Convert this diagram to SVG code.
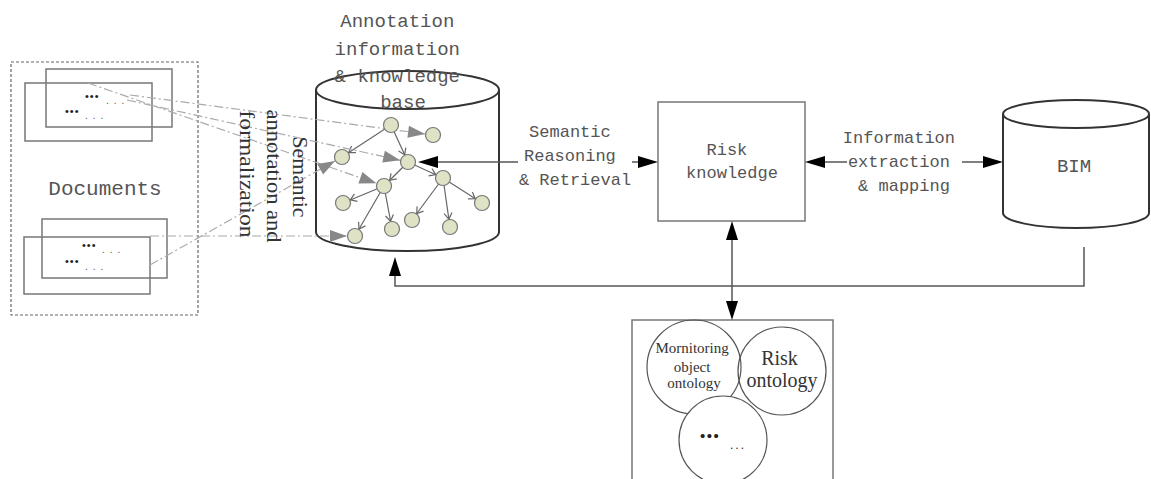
<svg xmlns="http://www.w3.org/2000/svg" width="1151" height="479" viewBox="0 0 1151 479">
  <style>
    .mono { font-family: "Liberation Mono", "DejaVu Sans Mono", monospace; fill: #555; }
    .serif { font-family: "Liberation Serif", "Times New Roman", serif; fill: #333; }
    .box { fill: none; stroke: #777; stroke-width: 1.5; }
    .cyl { fill: #fff; stroke: #333; stroke-width: 2; }
    .edge { stroke: #666; stroke-width: 1.2; fill: none; marker-end: url(#vhead); }
    .node { fill: #dfe2c4; stroke: #777; stroke-width: 1.2; }
    .dash { stroke: #aaa; stroke-width: 1.2; fill: none; stroke-dasharray: 9 3 2 3; marker-end: url(#grayhead); }
    .conn { stroke: #555; stroke-width: 1.5; fill: none; }
    .head { fill: #000; }
    .dots { font-family: "Liberation Sans", Arial, sans-serif; fill: #222; }
    .sdots { font-family: "Liberation Sans", Arial, sans-serif; fill: #555; }
  </style>
  <defs>
    <!-- open V arrowhead for graph edges; tip stops at the circle rim -->
    <marker id="vhead" markerUnits="userSpaceOnUse" markerWidth="20" markerHeight="20" refX="8" refY="0" orient="auto" overflow="visible">
      <path d="M-6,-4 L0,0 L-6,4" fill="none" stroke="#666" stroke-width="1.2"/>
    </marker>
    <!-- solid grey head for the annotation links -->
    <marker id="grayhead" markerUnits="userSpaceOnUse" markerWidth="30" markerHeight="30" refX="8" refY="0" orient="auto" overflow="visible">
      <path d="M0,0 L-17,-6 L-17,6 Z" fill="#888"/>
    </marker>
  </defs>

  <!-- Documents -->
  <g id="documents">
    <rect x="11" y="62" width="187" height="253" fill="none" stroke="#666" stroke-width="1.2" stroke-dasharray="3 2"/>
    <rect class="box" x="46" y="69" width="126" height="58"/>
    <rect class="box" x="25" y="83" width="127" height="58"/>
    <text class="dots" x="85" y="100" font-size="11" letter-spacing="1">•••</text>
    <text class="sdots" x="106" y="104" font-size="10" letter-spacing="5">...</text>
    <text class="dots" x="65" y="115" font-size="11" letter-spacing="1">•••</text>
    <text class="sdots" x="85" y="119" font-size="10" letter-spacing="5">...</text>
    <text class="mono" x="105" y="195" font-size="21" text-anchor="middle">Documents</text>
    <rect class="box" x="42" y="219" width="125" height="59"/>
    <rect class="box" x="24" y="237" width="126" height="57"/>
    <text class="dots" x="82" y="249" font-size="11" letter-spacing="1">•••</text>
    <text class="sdots" x="102" y="253" font-size="10" letter-spacing="5">...</text>
    <text class="dots" x="65" y="265" font-size="11" letter-spacing="1">•••</text>
    <text class="sdots" x="85" y="270" font-size="10" letter-spacing="5">...</text>
  </g>

  <!-- Annotation information & knowledge base -->
  <g id="knowledge-base">
    <path class="cyl" d="M316,90 L316,232 A91.5,19 0 0 0 499,232 L499,90"/>
    <ellipse class="cyl" cx="407.5" cy="90" rx="91.5" ry="19"/>
    <text class="mono" font-size="19" text-anchor="middle">
      <tspan x="403" y="27">Annotation</tspan>
      <tspan x="403" y="55">information</tspan>
      <tspan x="403" y="82">&amp; knowledge</tspan>
      <tspan x="403" y="108">base</tspan>
    </text>
    <!-- concept graph inside the base -->
    <g id="concept-edges">
      <line class="edge" x1="391" y1="125" x2="342" y2="157"/>
      <line class="edge" x1="391" y1="125" x2="408" y2="162"/>
      <line class="edge" x1="408" y1="162" x2="384" y2="186"/>
      <line class="edge" x1="408" y1="162" x2="443" y2="178"/>
      <line class="edge" x1="384" y1="186" x2="343" y2="203"/>
      <line class="edge" x1="384" y1="186" x2="355" y2="236"/>
      <line class="edge" x1="384" y1="186" x2="392" y2="229"/>
      <line class="edge" x1="443" y1="178" x2="412" y2="220"/>
      <line class="edge" x1="443" y1="178" x2="450" y2="227"/>
      <line class="edge" x1="443" y1="178" x2="482" y2="203"/>
    </g>
  </g>

  <!-- Semantic annotation and formalization links -->
  <g id="annotation-links">
    <line class="dash" x1="130" y1="95" x2="433" y2="135"/>
    <line class="dash" x1="88" y1="83" x2="384" y2="186"/>
    <line class="dash" x1="127" y1="100" x2="408" y2="162"/>
    <line class="dash" x1="150" y1="265" x2="342" y2="157"/>
    <line class="dash" x1="150" y1="236" x2="355" y2="236"/>
  </g>

  <g id="concept-nodes">
    <circle class="node" cx="391" cy="125" r="7.5"/>
    <circle class="node" cx="433" cy="135" r="7.5"/>
    <circle class="node" cx="342" cy="157" r="7.5"/>
    <circle class="node" cx="408" cy="162" r="7.5"/>
    <circle class="node" cx="443" cy="178" r="7.5"/>
    <circle class="node" cx="384" cy="186" r="7.5"/>
    <circle class="node" cx="343" cy="203" r="7.5"/>
    <circle class="node" cx="482" cy="203" r="7.5"/>
    <circle class="node" cx="412" cy="220" r="7.5"/>
    <circle class="node" cx="450" cy="227" r="7.5"/>
    <circle class="node" cx="392" cy="229" r="7.5"/>
    <circle class="node" cx="355" cy="236" r="7.5"/>
  </g>

  <g id="annotation-label">
    <text class="serif" font-size="20" text-anchor="middle" dominant-baseline="central" transform="translate(300,177) rotate(90)" textLength="81" lengthAdjust="spacingAndGlyphs">Semantic</text>
    <text class="serif" font-size="20" text-anchor="middle" dominant-baseline="central" transform="translate(274,176) rotate(90)" textLength="133" lengthAdjust="spacingAndGlyphs">annotation and</text>
    <text class="serif" font-size="20" text-anchor="middle" dominant-baseline="central" transform="translate(247,174) rotate(90)" textLength="127" lengthAdjust="spacingAndGlyphs">formalization</text>
  </g>

  <!-- Risk knowledge -->
  <g id="risk-knowledge">
    <rect class="box" x="658" y="102" width="147" height="119" fill="#fff"/>
    <text class="mono" font-size="17" text-anchor="middle">
      <tspan x="732" y="155">Risk</tspan>
      <tspan x="732" y="178">knowledge</tspan>
    </text>
  </g>

  <!-- BIM -->
  <g id="bim">
    <path class="cyl" d="M1003,114 L1003,213 A73,15 0 0 0 1149,213 L1149,114"/>
    <ellipse class="cyl" cx="1076" cy="114" rx="73" ry="14"/>
    <text class="mono" x="1074" y="172" font-size="19" text-anchor="middle">BIM</text>
  </g>

  <!-- Ontologies -->
  <g id="ontologies">
    <rect class="box" x="632" y="320" width="201" height="175"/>
    <circle cx="694" cy="367" r="47" fill="none" stroke="#555" stroke-width="1.2"/>
    <circle cx="782" cy="371" r="44" fill="none" stroke="#555" stroke-width="1.2"/>
    <circle cx="723" cy="440" r="44" fill="#fff" stroke="#555" stroke-width="1.2"/>
    <text class="serif" font-size="15" text-anchor="middle">
      <tspan x="694" y="353">Mornitoring</tspan>
      <tspan x="694" y="372">object</tspan>
      <tspan x="694" y="388">ontology</tspan>
    </text>
    <text class="serif" font-size="20" text-anchor="middle">
      <tspan x="782" y="365">Risk</tspan>
      <tspan x="782" y="387">ontology</tspan>
    </text>
    <text class="dots" x="700" y="441" font-size="15" letter-spacing="1.5">•••</text>
    <text class="dots" x="730" y="449" font-size="12" letter-spacing="2">...</text>
  </g>

  <!-- Connectors -->
  <g id="connectors">
    <!-- Semantic Reasoning & Retrieval -->
    <line class="conn" x1="438" y1="162" x2="518" y2="162"/>
    <line class="conn" x1="632" y1="162" x2="640" y2="162"/>
    <polygon class="head" points="418,162 438,156 438,168"/>
    <polygon class="head" points="658,162 638,156 638,168"/>
    <text class="mono" font-size="17" text-anchor="middle">
      <tspan x="575" y="137">Semantic</tspan>
      <tspan x="575" y="161">Reasoning</tspan>
      <tspan x="575" y="185">&amp; Retrieval</tspan>
    </text>
    <!-- Information extraction & mapping -->
    <line class="conn" x1="823" y1="162" x2="847" y2="162"/>
    <line class="conn" x1="962" y1="162" x2="985" y2="162"/>
    <polygon class="head" points="805,162 825,156 825,168"/>
    <polygon class="head" points="1003,162 983,156 983,168"/>
    <text class="mono" font-size="17" text-anchor="middle">
      <tspan x="904" y="143">Information</tspan>
      <tspan x="904" y="167">extraction</tspan>
      <tspan x="904" y="191">&amp; mapping</tspan>
    </text>
    <!-- Risk knowledge to ontologies -->
    <line class="conn" x1="732" y1="238" x2="732" y2="303"/>
    <polygon class="head" points="732,221 726,240 738,240"/>
    <polygon class="head" points="732,320 726,301 738,301"/>
    <!-- BIM back to the knowledge base -->
    <polyline class="conn" points="1084,247 1084,286 395,286 395,274"/>
    <polygon class="head" points="395,257 389,276 401,276"/>
  </g>
</svg>
